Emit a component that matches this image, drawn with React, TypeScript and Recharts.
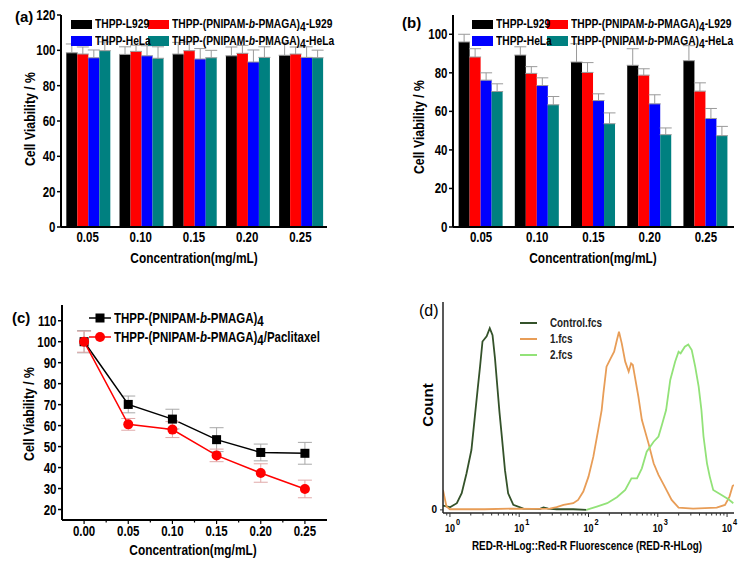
import React from 'react'
import { BarChart, Bar, LineChart, Line, XAxis, YAxis, ErrorBar, Legend, Label } from 'recharts'

const FONT = "'Liberation Sans', Arial, sans-serif"
const SQUEEZE = 0.82 // the figure's lettering is a narrow face

// ---- (a) / (b) bar panels ----
const concentrations = ['0.05', '0.10', '0.15', '0.20', '0.25']
const barSeries = ['THPP-L929', 'THPP-(PNIPAM-b-PMAGA)4-L929', 'THPP-HeLa', 'THPP-(PNIPAM-b-PMAGA)4-HeLa']
const barColors = ['#000000', '#ff0000', '#0000ff', '#008080']

const aL929 = [98.6, 97.7, 97.9, 96.9, 97.2]
const aPL929 = [97.9, 99.4, 99.8, 98.3, 97.9]
const aHeLa = [95.8, 96.9, 95.1, 93.4, 96.0]
const aPHeLa = [99.8, 95.5, 95.8, 96.0, 95.8]
const aL929Err = [5, 4.3, 6.6, 5, 7]
const aPL929Err = [4, 3.5, 5, 4.5, 4]
const aHeLaErr = [4.4, 5.7, 5.9, 6.8, 6]
const aPHeLaErr = [5, 6.5, 4.2, 6, 4.3]

const bL929 = [96, 89.2, 85.6, 83.9, 86.3]
const bPL929 = [88.2, 79.7, 80.2, 78.8, 70.5]
const bHeLa = [76.2, 73.4, 65.6, 63.9, 56.3]
const bPHeLa = [70.3, 63.4, 53.6, 47.9, 47.4]
const bL929Err = [4, 4.3, 9.5, 8.6, 7.8]
const bPL929Err = [4.3, 3.5, 5.1, 3.3, 4.3]
const bHeLaErr = [3.8, 4, 3.5, 4.7, 5.2]
const bPHeLaErr = [4, 4.3, 5.6, 3.5, 4.8]

// ---- (c) line panel ----
const cConc = [0, 0.05, 0.1, 0.15, 0.2, 0.25]
const cSeries = ['THPP-(PNIPAM-b-PMAGA)4', 'THPP-(PNIPAM-b-PMAGA)4/Paclitaxel']
const cColors = ['#000000', '#ff0000']
const cPlain = [100, 70.1, 63.1, 53.3, 47.2, 46.8]
const cPlainErr = [5.3, 4, 4.7, 5.7, 4, 5.2]
const cPacli = [100, 60.6, 58.1, 45.8, 37.4, 29.8]
const cPacliErr = [5, 2.8, 3.8, 3, 4.4, 4.2]
const cTicks = [0, 0.025, 0.05, 0.075, 0.1, 0.125, 0.15, 0.175, 0.2, 0.225, 0.25]

// ---- (d) flow cytometry histograms (x in log10 units) ----
const fcsNames = ['Control.fcs', '1.fcs', '2.fcs']
const fcsColors = ['#34522a', '#e89d57', '#92e278']
const controlX = [-0.1, 0.0, 0.1, 0.17, 0.24, 0.31, 0.36, 0.4, 0.435, 0.47, 0.53, 0.575, 0.615, 0.65, 0.685, 0.715, 0.75, 0.795, 0.84, 0.915, 1.06, 1.3, 1.35, 1.42, 1.54, 1.78, 1.97]
const controlY = [2.1, 1.3, 3.2, 8, 17.6, 28.8, 45, 58, 69, 81, 83.5, 87.4, 84, 73, 59, 47, 35, 19, 8, 2.4, 0.6, 0.5, 1.2, 0.6, 0.3, 0.3, 0]
const oneX = [-0.1, -0.05, 0.0, 0.5, 0.92, 1.2, 1.44, 1.54, 1.64, 1.78, 1.85, 1.925, 2.0, 2.07, 2.14, 2.19, 2.215, 2.26, 2.32, 2.37, 2.41, 2.44, 2.48, 2.53, 2.58, 2.615, 2.64, 2.67, 2.72, 2.77, 2.866, 2.94, 3.01, 3.1, 3.2, 3.3, 3.51, 3.85, 3.97, 4.035, 4.08, 4.1]
const oneY = [9.6, 1.6, 0.3, 0.3, 0.6, 0.5, 0.6, 1.3, 2.4, 3.2, 4.8, 8.8, 16, 25.6, 38.5, 48, 56, 68.9, 72.9, 76.1, 81.7, 85.7, 80.1, 71.3, 66.5, 70.5, 69.7, 64, 54.5, 43.3, 32, 22.4, 16.8, 11.2, 4.8, 1.1, 0.6, 1.1, 2.4, 6.4, 11.5, 12]
const twoX = [1.97, 2.12, 2.27, 2.41, 2.53, 2.62, 2.7, 2.77, 2.84, 2.94, 3.01, 3.06, 3.12, 3.18, 3.25, 3.3, 3.33, 3.39, 3.44, 3.49, 3.54, 3.59, 3.63, 3.66, 3.71, 3.75, 3.8, 3.92, 4.02, 4.09]
const twoY = [0, 1.6, 3.2, 6.1, 9.6, 15.2, 15.2, 20, 28, 32.8, 35.3, 40.9, 48, 62.5, 71.3, 76.1, 75.3, 78.5, 79.6, 76.9, 68.9, 59.3, 48, 35.3, 22.4, 16, 9.6, 7.2, 5.1, 3.2]

const buildBars = (vals: number[][], errs: number[][]) =>
  concentrations.map((c, i) => {
    const row: Record<string, any> = { c }
    vals.forEach((v, k) => {
      row['s' + k] = v[i]
      row['e' + k] = [0, errs[k][i]]
    })
    return row
  })

const aData = buildBars([aL929, aPL929, aHeLa, aPHeLa], [aL929Err, aPL929Err, aHeLaErr, aPHeLaErr])
const bData = buildBars([bL929, bPL929, bHeLa, bPHeLa], [bL929Err, bPL929Err, bHeLaErr, bPHeLaErr])
const cData = cConc.map((x, i) => ({ x, plain: cPlain[i], plainErr: cPlainErr[i], pacli: cPacli[i], pacliErr: cPacliErr[i] }))
const toPts = (xs: number[], ys: number[]) => xs.map((x, i) => ({ x, y: ys[i] }))
const fcsData = [toPts(controlX, controlY), toPts(oneX, oneY), toPts(twoX, twoY)]

const logTicks: number[] = [Math.log10(0.9)]
for (let n = 0; n <= 3; n++) for (let k = 1; k <= 9; k++) logTicks.push(n + Math.log10(k))
logTicks.push(4)

// "THPP-(PNIPAM-b-PMAGA)4-L929" -> italic b, subscript 4
function rich(name: string) {
  const m = name.match(/^(.*)-b-(.*)\)4(.*)$/)
  if (!m) return name
  return (
    <>
      {m[1]}-<i>b</i>-{m[2]})<span style={{ position: 'relative', top: 3 }}>4</span>{m[3]}
    </>
  )
}

// svg text squeezed horizontally around its anchor x
const NText = ({ x, y, sx = SQUEEZE, rotate, children, ...rest }: any) => {
  const squeeze = `translate(${x} 0) scale(${sx} 1) translate(${-x} 0)`
  const transform = rotate ? `rotate(${rotate} ${x} ${y}) ${squeeze}` : squeeze
  return (
    <text x={x} y={y} transform={transform} fontFamily={FONT} fill="#000" {...rest}>
      {children}
    </text>
  )
}

const narrowSpan = (size: number, extra: any = {}) => ({
  display: 'inline-block', fontSize: size, fontWeight: 'bold', whiteSpace: 'nowrap' as const, color: '#000',
  transform: `scaleX(${SQUEEZE})`, transformOrigin: 'left center', ...extra,
})

const BarLegend = ({ col }: any) => (
  <div style={{ display: 'grid', gridTemplateColumns: `${col}px 200px`, fontFamily: FONT }}>
    {barSeries.map((name, k) => (
      <div key={name} style={{ display: 'flex', alignItems: 'center', height: 16.5 }}>
        <span style={{ width: 21, height: 9.5, background: barColors[k], marginRight: 3, flex: 'none' }} />
        <span style={narrowSpan(12.5)}>{rich(name)}</span>
      </div>
    ))}
  </div>
)

const yTitle = (x: number, y: number, text: string, size = 15, sx = SQUEEZE) => () => (
  <NText x={x} y={y} rotate={-90} sx={sx} textAnchor="middle" dominantBaseline="central" fontSize={size} fontWeight="bold">{text}</NText>
)
const xTitle = (x: number, y: number, text: string, size = 14.5) => () => (
  <NText x={x} y={y} textAnchor="middle" fontSize={size} fontWeight="bold">{text}</NText>
)

const CatTick = ({ x, y, payload }: any) => (
  <NText x={x} y={y + 15} textAnchor="middle" fontSize={14} fontWeight="bold">{payload.value}</NText>
)
const YTick = ({ x, y, payload }: any) => (
  <NText x={x} y={y} dy="0.36em" textAnchor="end" fontSize={14} fontWeight="bold">{payload.value}</NText>
)

const frameLine = { stroke: '#000', strokeWidth: 2 }

function BarPanel({ data, left, top, width, height, margin, yMax, yTicks, legendPos, col, yTitlePos, xTitlePos, tag, tagPos }: any) {
  return (
    <div style={{ position: 'absolute', left, top, width, height }}>
      <BarChart width={width} height={height} data={data} margin={margin} barCategoryGap="10%" barGap={0}>
        <XAxis dataKey="c" axisLine={frameLine} tickLine={false} tickSize={0} tickMargin={0} interval={0}
          tick={<CatTick />} height={40}>
          <Label content={xTitle(xTitlePos[0], xTitlePos[1], 'Concentration(mg/mL)')} />
        </XAxis>
        <XAxis xAxisId="top" orientation="top" dataKey="c" height={0} tick={false} tickLine={false} axisLine={frameLine} />
        <YAxis domain={[0, yMax]} ticks={yTicks} interval={0} allowDataOverflow width={40} axisLine={frameLine}
          tickLine={{ stroke: '#000', strokeWidth: 1.5 }} tickSize={4} tickMargin={1.5} tick={<YTick />}>
          <Label content={yTitle(yTitlePos[0], yTitlePos[1], 'Cell Viability / %')} />
        </YAxis>
        <YAxis yAxisId="right" orientation="right" domain={[0, yMax]} width={0} tick={false} tickLine={false} axisLine={frameLine} />
        {barSeries.map((name, k) => (
          <Bar key={name} dataKey={'s' + k} name={name} fill={barColors[k]} isAnimationActive={false}>
            <ErrorBar dataKey={'e' + k} width={6} stroke="#9a9a9a" strokeWidth={1} />
          </Bar>
        ))}
        <Legend layout="vertical" align="center" verticalAlign="middle"
          wrapperStyle={{ left: legendPos[0], top: legendPos[1], width: 'auto' }}
          content={() => <BarLegend col={col} />} />
      </BarChart>
      <div style={{ position: 'absolute', left: tagPos[0], top: tagPos[1], fontFamily: FONT, fontWeight: 'bold', fontSize: 15 }}>{tag}</div>
    </div>
  )
}

const SquareDot = (props: any) => {
  const { cx, cy, index } = props
  return <rect key={'sq' + index} x={cx - 4.5} y={cy - 4.5} width={9} height={9} fill="#000" />
}
const CircleDot = (props: any) => {
  const { cx, cy, index } = props
  return <circle key={'ci' + index} cx={cx} cy={cy} r={5} fill="#ff0000" />
}

const ConcTick = ({ x, y, payload }: any) => {
  const v = payload.value
  const major = Math.round(v * 1000) % 50 === 0
  return (
    <g>
      <line x1={x} x2={x} y1={y} y2={y + (major ? 4 : 2.5)} stroke="#000" strokeWidth={1.2} />
      {major && <NText x={x} y={y + 16} textAnchor="middle" fontSize={14} fontWeight="bold">{v.toFixed(2)}</NText>}
    </g>
  )
}

const LineLegend = () => (
  <div style={{ fontFamily: FONT }}>
    {cSeries.map((name, i) => (
      <div key={name} style={{ display: 'flex', alignItems: 'center', height: 19 }}>
        <svg width={22} height={12} style={{ marginRight: 3, flex: 'none' }}>
          <line x1={0} x2={22} y1={6} y2={6} stroke={cColors[i]} strokeWidth={1.5} />
          {i === 0 ? <rect x={6.5} y={1.5} width={9} height={9} fill={cColors[i]} /> : <circle cx={11} cy={6} r={5} fill={cColors[i]} />}
        </svg>
        <span style={narrowSpan(14)}>{rich(name)}</span>
      </div>
    ))}
  </div>
)

const LogTick = ({ x, y, payload }: any) => {
  const v = payload.value
  const major = Math.abs(v - Math.round(v)) < 1e-9
  return (
    <g>
      <line x1={x} x2={x} y1={y} y2={y + (major ? 4 : 2.5)} stroke="#333" strokeWidth={1} />
      {major && (
        <g fontWeight="bold">
          <NText x={x + 5} y={y + 19} textAnchor="end" fontSize={11}>10</NText>
          <NText x={x + 6} y={y + 12} textAnchor="start" fontSize={9}>{Math.round(v)}</NText>
        </g>
      )}
    </g>
  )
}

const FcsLegend = () => (
  <div style={{ fontFamily: FONT }}>
    {fcsNames.map((name, k) => (
      <div key={name} style={{ display: 'flex', alignItems: 'center', height: 16 }}>
        <span style={{ width: 17, height: 2.5, background: fcsColors[k], marginRight: 13, flex: 'none' }} />
        <span style={narrowSpan(12, { color: '#222' })}>{name}</span>
      </div>
    ))}
  </div>
)

export default function App() {
  const thin = { stroke: '#222', strokeWidth: 1.5 }
  return (
    <div style={{ position: 'absolute', left: 0, top: 0, width: 745, height: 566, background: '#fff', fontFamily: FONT }}>
      <BarPanel data={aData} left={0} top={0} width={372} height={290}
        margin={{ top: 15, right: 45, bottom: 23, left: 21 }} yMax={120} yTicks={[0, 20, 40, 60, 80, 100, 120]}
        legendPos={[71, 16]} col={77} yTitlePos={[30, 119]} xTitlePos={[194, 263]} tag="(a)" tagPos={[15, 8]} />
      <BarPanel data={bData} left={372} top={0} width={373} height={290}
        margin={{ top: 15, right: 11, bottom: 23, left: 41 }} yMax={110} yTicks={[0, 20, 40, 60, 80, 100]}
        legendPos={[100, 16]} col={75} yTitlePos={[47, 127]} xTitlePos={[221, 263]} tag="(b)" tagPos={[30, 14]} />

      <div style={{ position: 'absolute', left: 0, top: 290, width: 372, height: 276 }}>
        <LineChart width={372} height={276} data={cData} margin={{ top: 15, right: 45, bottom: 16, left: 22 }}>
          <XAxis type="number" dataKey="x" domain={[-0.025, 0.275]} ticks={cTicks} interval={0} allowDataOverflow
            axisLine={frameLine} tickLine={false} tickSize={0} tickMargin={0} tick={<ConcTick />} height={30}>
            <Label content={xTitle(193, 265, 'Concentration(mg/mL)')} />
          </XAxis>
          <XAxis xAxisId="top" orientation="top" type="number" dataKey="x" domain={[-0.025, 0.275]} allowDataOverflow
            height={0} tick={false} tickLine={false} axisLine={frameLine} />
          <YAxis domain={[15, 117.5]} ticks={[20, 30, 40, 50, 60, 70, 80, 90, 100, 110]} interval={0} allowDataOverflow width={40}
            axisLine={frameLine} tickLine={{ stroke: '#000', strokeWidth: 1.5 }} tickSize={4} tickMargin={1.5} tick={<YTick />}>
            <Label content={yTitle(29, 124, 'Cell Viability / %')} />
          </YAxis>
          <YAxis yAxisId="right" orientation="right" domain={[15, 117.5]} width={0} tick={false} tickLine={false} axisLine={frameLine} />
          <Line dataKey="plain" name={cSeries[0]} stroke={cColors[0]} strokeWidth={1.5} dot={<SquareDot />} isAnimationActive={false}>
            <ErrorBar dataKey="plainErr" width={7} stroke="#a8a8a8" strokeWidth={1} />
          </Line>
          <Line dataKey="pacli" name={cSeries[1]} stroke={cColors[1]} strokeWidth={1.5} dot={<CircleDot />} isAnimationActive={false}>
            <ErrorBar dataKey="pacliErr" width={7} stroke="#e0a8a8" strokeWidth={1} />
          </Line>
          <Legend layout="vertical" align="center" verticalAlign="middle"
            wrapperStyle={{ left: 89, top: 18, width: 'auto' }} content={() => <LineLegend />} />
        </LineChart>
        <div style={{ position: 'absolute', left: 12, top: 19, fontFamily: FONT, fontWeight: 'bold', fontSize: 15 }}>(c)</div>
      </div>

      <div style={{ position: 'absolute', left: 372, top: 290, width: 373, height: 276 }}>
        <LineChart width={373} height={276} margin={{ top: 12, right: 11, bottom: 23, left: 31 }}>
          <XAxis type="number" dataKey="x" domain={[-0.1, 4.1]} ticks={logTicks} interval={0} allowDataOverflow
            axisLine={thin} tickLine={false} tickSize={0} tickMargin={0} tick={<LogTick />} height={30}>
            <Label content={xTitle(215, 260, 'RED-R-HLog::Red-R Fluorescence (RED-R-HLog)', 12)} />
          </XAxis>
          <XAxis xAxisId="top" orientation="top" type="number" dataKey="x" domain={[-0.1, 4.1]} allowDataOverflow
            height={0} tick={false} tickLine={false} axisLine={thin} />
          <YAxis type="number" dataKey="y" domain={[-1.5, 100]} ticks={[0]} allowDataOverflow width={40}
            axisLine={thin} tickLine={{ stroke: '#333' }} tickSize={3} tickMargin={3}
            tick={{ fill: '#000', fontSize: 10, fontWeight: 'bold', fontFamily: FONT }}>
            <Label content={yTitle(55, 115, 'Count', 15, 1)} />
          </YAxis>
          <YAxis yAxisId="right" orientation="right" domain={[-1.5, 100]} width={0} tick={false} tickLine={false} axisLine={thin} />
          {fcsNames.map((name, k) => (
            <Line key={name} data={fcsData[k]} dataKey="y" name={name} stroke={fcsColors[k]} strokeWidth={1.8}
              dot={false} type="linear" isAnimationActive={false} />
          ))}
          <Legend layout="vertical" align="center" verticalAlign="middle"
            wrapperStyle={{ left: 148, top: 25, width: 'auto' }} content={() => <FcsLegend />} />
        </LineChart>
        <div style={{ position: 'absolute', left: 47, top: 12, fontFamily: FONT, fontSize: 16 }}>(d)</div>
      </div>
    </div>
  )
}
